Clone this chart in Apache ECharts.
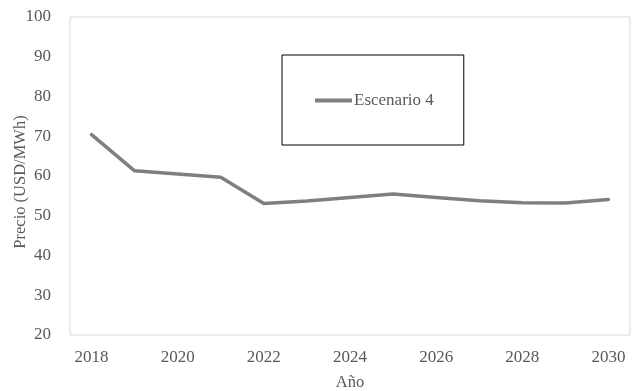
<!DOCTYPE html>
<html>
<head>
<meta charset="utf-8">
<script src="https://cdn.jsdelivr.net/npm/echarts@6/dist/echarts.min.js"></script>
<style>
  html, body { margin: 0; padding: 0; background: #fff; }
  #chart { width: 633px; height: 391px; }
</style>
</head>
<body>
<div id="chart"></div>
<script>
var years = ['2018', '2019', '2020', '2021', '2022', '2023', '2024', '2025', '2026', '2027', '2028', '2029', '2030'];
var escenario4 = [70.4, 61.3, 60.5, 59.7, 53.1, 53.7, 54.6, 55.5, 54.6, 53.8, 53.3, 53.2, 54.1];
var seriesName = 'Escenario 4';

var font = '"Liberation Serif", "Times New Roman", serif';
var textColor = '#595959';

var chart = echarts.init(document.getElementById('chart'), null, { renderer: 'canvas' });

chart.setOption({
  animation: false,
  textStyle: { fontFamily: font },
  grid: {
    left: 70, right: 3, top: 17, bottom: 56,
    outerBoundsMode: 'none',
    containLabel: false,
    show: true,
    borderColor: '#d9d9d9',
    borderWidth: 1
  },
  legend: {
    left: 282,
    top: 55,
    padding: [37, 30, 36, 33],
    borderColor: '#000',
    borderWidth: 1,
    icon: 'rect',
    itemWidth: 37,
    itemHeight: 4,
    itemGap: 0,
    textStyle: { fontFamily: font, fontSize: 17, color: textColor, padding: [0, 0, 0, -3] },
    data: [seriesName]
  },
  xAxis: {
    type: 'category',
    data: years,
    boundaryGap: true,
    name: 'Año',
    nameLocation: 'middle',
    nameGap: 39,
    nameMoveOverlap: false,
    nameTextStyle: { fontFamily: font, fontSize: 16.5, color: textColor },
    axisLine: { show: false },
    axisTick: { show: false },
    axisLabel: { interval: 1, margin: 14, fontFamily: font, fontSize: 17, color: textColor },
    splitLine: { show: false }
  },
  yAxis: {
    type: 'value',
    min: 20,
    max: 100,
    interval: 10,
    name: 'Precio (USD/MWh)',
    nameLocation: 'middle',
    nameGap: 41,
    nameMoveOverlap: false,
    nameTextStyle: { fontFamily: font, fontSize: 16.5, color: textColor, padding: [0, 12, 0, 0] },
    axisLine: { show: false },
    axisTick: { show: false },
    axisLabel: { margin: 19, fontFamily: font, fontSize: 17, color: textColor },
    splitLine: { show: false }
  },
  series: [{
    name: seriesName,
    type: 'line',
    data: escenario4,
    symbol: 'none',
    color: '#7f7f7f',
    lineStyle: { color: '#7f7f7f', width: 3.5, cap: 'round', join: 'round' }
  }]
});
</script>
</body>
</html>
